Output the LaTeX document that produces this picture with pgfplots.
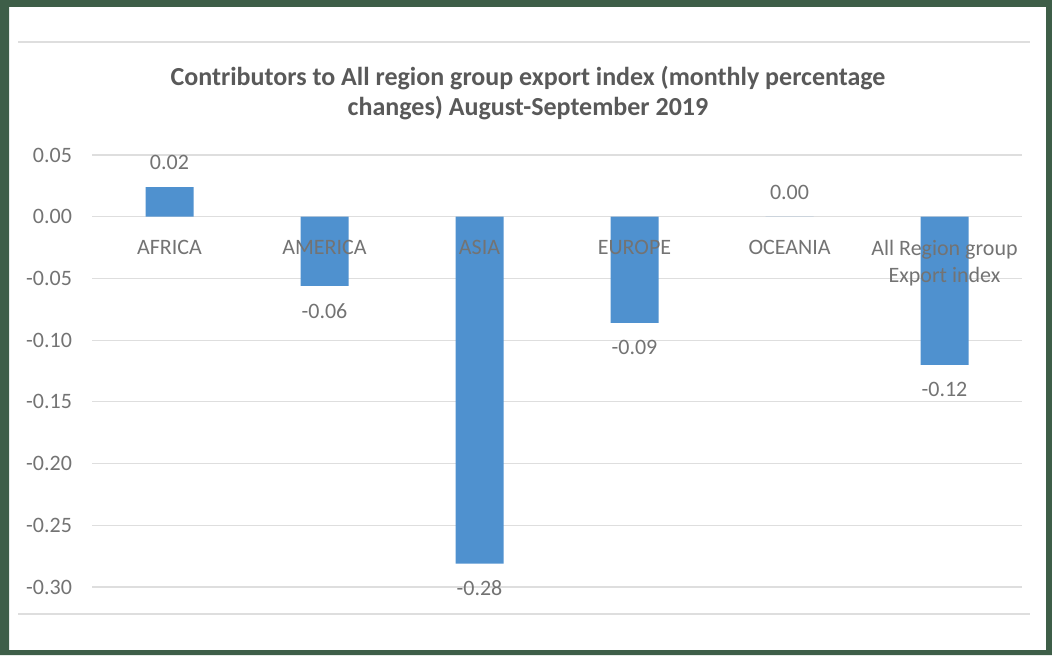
\documentclass[border=0pt]{standalone}
\usepackage{fontspec}
\setmainfont{Carlito}
\usepackage{pgfplots}
\pgfplotsset{compat=1.18}
\definecolor{framegreen}{RGB}{62,94,72}
\definecolor{barblue}{RGB}{79,145,207}
\definecolor{titlegray}{RGB}{89,89,89}
\definecolor{txtgray}{RGB}{115,115,115}
\definecolor{gridgray}{RGB}{222,222,222}

\begin{document}
\begin{tikzpicture}
\useasboundingbox (0,0) rectangle (526pt,327.5pt);
% frame
\fill[framegreen, even odd rule] (0,0) rectangle (526pt,327.5pt)
    (4.5pt,2.5pt) rectangle (523pt,324pt);
\draw[gridgray, line width=0.8pt] (9pt,306.5pt) -- (515pt,306.5pt);
\draw[gridgray, line width=0.8pt] (9pt,20.5pt) -- (515pt,20.5pt);
% title
\node[align=center, font=\fontsize{13}{15}\selectfont\bfseries, text=titlegray]
    at (264pt,281pt) {Contributors to All region group export index (monthly percentage\\changes) August-September 2019};

\begin{axis}[
    at={(46pt,34pt)}, anchor=south west,
    scale only axis, width=465pt, height=216pt,
    xmin=-0.5, xmax=5.5,
    ymin=-0.30, ymax=0.05,
    xtick=\empty,
    ytick={-0.30,-0.25,-0.20,-0.15,-0.10,-0.05,0,0.05},
    ymajorgrids,
    grid style={gridgray, line width=0.6pt},
    axis line style={draw=none},
    major tick length=0pt,
    yticklabel style={
        /pgf/number format/.cd, fixed, fixed zerofill, precision=2, assume math mode=true,
        /tikz/.cd, font=\fontsize{11}{12}\selectfont, text=txtgray, xshift=-6.5pt},
    clip=false,
]
\addplot[ybar, bar width=24pt, fill=barblue, draw=none,
    nodes near coords={\pgfmathprintnumber[fixed,fixed zerofill,precision=2,assume math mode=true]{\pgfplotspointmeta}},
    every node near coord/.append style={font=\fontsize{11}{12}\selectfont, text=txtgray, inner ysep=8.5pt},
] coordinates {
    (0,0.024) (1,-0.056) (2,-0.281) (3,-0.086) (4,0) (5,-0.120)
};
% category names sit on the zero line
\node[anchor=north, yshift=-8pt, font=\fontsize{11}{13.5}\selectfont, text=txtgray] at (axis cs:0,0) {AFRICA};
\node[anchor=north, yshift=-8pt, font=\fontsize{11}{13.5}\selectfont, text=txtgray] at (axis cs:1,0) {AMERICA};
\node[anchor=north, yshift=-8pt, font=\fontsize{11}{13.5}\selectfont, text=txtgray] at (axis cs:2,0) {ASIA};
\node[anchor=north, yshift=-8pt, font=\fontsize{11}{13.5}\selectfont, text=txtgray] at (axis cs:3,0) {EUROPE};
\node[anchor=north, yshift=-8pt, font=\fontsize{11}{13.5}\selectfont, text=txtgray] at (axis cs:4,0) {OCEANIA};
\node[anchor=north, yshift=-8pt, align=center, font=\fontsize{11}{13.5}\selectfont, text=txtgray] at (axis cs:5,0) {All Region group\\Export index};
\end{axis}
\end{tikzpicture}
\end{document}
